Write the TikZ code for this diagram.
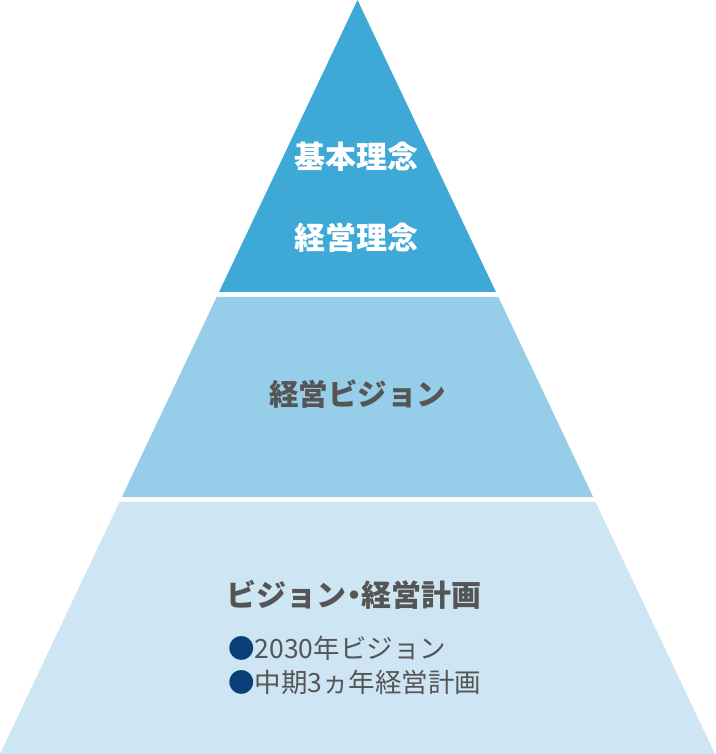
\documentclass[tikz,border=0pt]{standalone}
\usepackage{fontspec}
\newfontfamily\jp{Noto Sans CJK JP}
\usetikzlibrary{calc}
\definecolor{topc}{HTML}{3EA9D6}
\definecolor{midc}{HTML}{96CDE8}
\definecolor{botc}{HTML}{CEE6F3}
\definecolor{txtg}{HTML}{555555}
\definecolor{bulc}{HTML}{0B3F78}
\tikzset{
  band/.style={draw=none},
  title/.style={font=\jp\bfseries\fontsize{31}{36}\selectfont, inner sep=0pt, anchor=center},
  item/.style={font=\jp\fontsize{26.5}{30}\selectfont, text=txtg, inner sep=0pt, anchor=west},
}
\newcommand{\bul}{\textcolor{bulc}{●}}
\begin{document}
\begin{tikzpicture}[x=1pt,y=-1pt]
\useasboundingbox (0,0) rectangle (715,754);
\coordinate (apex) at (357.5,0);
\coordinate (bl) at (0,754);
\coordinate (br) at (715,754);
% band boundaries
\coordinate (l1) at ($(apex)!292/754!(bl)$);
\coordinate (r1) at ($(apex)!292/754!(br)$);
\coordinate (l2) at ($(apex)!297/754!(bl)$);
\coordinate (r2) at ($(apex)!297/754!(br)$);
\coordinate (l3) at ($(apex)!497/754!(bl)$);
\coordinate (r3) at ($(apex)!497/754!(br)$);
\coordinate (l4) at ($(apex)!502/754!(bl)$);
\coordinate (r4) at ($(apex)!502/754!(br)$);
\fill[band, topc] (apex) -- (r1) -- (l1) -- cycle;
\fill[band, midc] (l2) -- (r2) -- (r3) -- (l3) -- cycle;
\fill[band, botc] (l4) -- (r4) -- (br) -- (bl) -- cycle;
% texts
\node[title, text=white] (t1) at (356.5,157) {基本理念};
\node[title, text=white] (t2) at (356.5,238) {経営理念};
\node[title, text=txtg, font=\jp\bfseries\fontsize{29.5}{34}\selectfont] (t3) at (357.5,394) {経営ビジョン};
\node[title, text=txtg, font=\jp\bfseries\fontsize{30}{34}\selectfont] (t4) at (354,595) {ビジョン\hspace{-0.25em}・\hspace{-0.25em}経営計画};
\node[item] (i1) at (228,648) {\bul 2030年ビジョン};
\node[item] (i2) at (228,682.5) {\bul 中期3ヵ年経営計画};
\end{tikzpicture}
\end{document}
